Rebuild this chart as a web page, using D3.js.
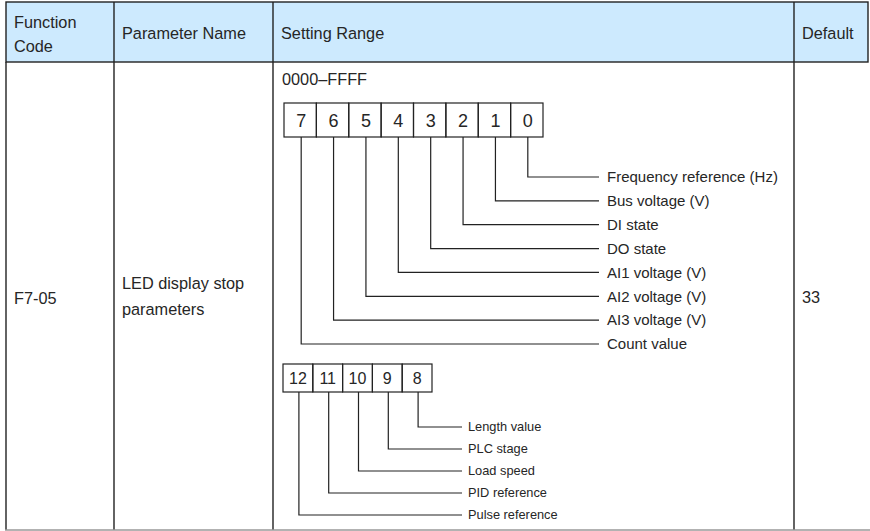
<!DOCTYPE html>
<html><head><meta charset="utf-8">
<script src="https://cdn.jsdelivr.net/npm/d3@7"></script>
<style>html,body{margin:0;padding:0;background:#fff;}svg{display:block;font-family:"Liberation Sans",Arial,sans-serif;}</style>
</head><body>
<svg id="c" width="870" height="531"></svg>
<script>
// ---- data ----
const headers = ["Function\nCode", "Parameter Name", "Setting Range", "Default"];
const functionCode = "F7-05";
const parameterName = ["LED display stop", "parameters"];
const settingRange = "0000–FFFF";
const defaultValue = "33";
const bitsRow1 = ["7","6","5","4","3","2","1","0"];
const labelsRow1 = ["Frequency reference (Hz)","Bus voltage (V)","DI state","DO state",
  "AI1 voltage (V)","AI2 voltage (V)","AI3 voltage (V)","Count value"]; // bit 0..7
const bitsRow2 = ["12","11","10","9","8"];
const labelsRow2 = ["Length value","PLC stage","Load speed","PID reference","Pulse reference"]; // bit 8..12

(function(){
// ---- layout ----
const svg = d3.select("#c");
const colEdges = [6, 114, 273, 794, 868];
const tableTop = 2, headBottom = 62, tableBottom = 530;
const ink = "#222", txt = "#262626";

// header
svg.append("rect").attr("x", colEdges[0]).attr("y", tableTop)
  .attr("width", colEdges[4]-colEdges[0]).attr("height", headBottom-tableTop)
  .attr("fill", "#cdeafe").attr("stroke", ink).attr("stroke-width", 1.4);
svg.selectAll("line.hcol").data(colEdges.slice(1, 4)).join("line").attr("class", "hcol")
  .attr("x1", d => d).attr("x2", d => d).attr("y1", tableTop).attr("y2", headBottom)
  .attr("stroke", ink).attr("stroke-width", 1.4);
headers.forEach((h, i) => {
  const lines = h.split("\n");
  const t = svg.append("text").attr("x", colEdges[i] + 8).attr("fill", txt).attr("font-size", 16.3);
  lines.forEach((l, j) => {
    t.append("tspan").attr("x", colEdges[i] + 8)
      .attr("y", lines.length === 1 ? 39 : 28 + j * 24).text(l);
  });
});
// column borders (body)
svg.selectAll("line.col").data(colEdges.slice(0, 4)).join("line").attr("class", "col")
  .attr("x1", d => d).attr("x2", d => d).attr("y1", headBottom).attr("y2", tableBottom)
  .attr("stroke", ink).attr("stroke-width", 1.4);
svg.append("line").attr("x1", colEdges[0]-1).attr("x2", 870).attr("y1", tableBottom).attr("y2", tableBottom)
  .attr("stroke", "#999").attr("stroke-width", 1.4);

// body texts
svg.append("text").attr("x", colEdges[0] + 8).attr("y", 304).attr("font-size", 16.3).attr("fill", txt).text(functionCode);
parameterName.forEach((l, j) => svg.append("text").attr("x", colEdges[1] + 8).attr("y", 289 + j * 26)
  .attr("font-size", 16.3).attr("fill", txt).text(l));
svg.append("text").attr("x", colEdges[3] + 8).attr("y", 303).attr("font-size", 16.3).attr("fill", txt).text(defaultValue);
svg.append("text").attr("x", 282).attr("y", 85).attr("font-size", 16.3).attr("fill", txt).text(settingRange);

// ---- bit diagram row 1 ----
const x1 = d3.scaleBand().domain(bitsRow1).range([284, 543]);
const box1Top = 103, box1Bot = 137;
const y1 = d3.scalePoint().domain(d3.range(8)).range([177, 344]);
const g1 = svg.append("g");
g1.selectAll("rect").data(bitsRow1).join("rect")
  .attr("x", d => x1(d)).attr("y", box1Top).attr("width", x1.bandwidth()).attr("height", box1Bot - box1Top)
  .attr("fill", "none").attr("stroke", ink).attr("stroke-width", 1.2);
g1.selectAll("text.b").data(bitsRow1).join("text").attr("class", "b")
  .attr("x", d => x1(d) + x1.bandwidth()/2 + 1).attr("y", 127).attr("text-anchor", "middle")
  .attr("font-size", 18).attr("fill", txt).text(d => d);
g1.selectAll("path").data(bitsRow1).join("path")
  .attr("d", d => { const cx = x1(d) + x1.bandwidth()/2 + 1, yy = y1(+d);
    return `M${cx},${box1Bot}V${yy}H599`; })
  .attr("fill", "none").attr("stroke", ink).attr("stroke-width", 1.2);
g1.selectAll("text.l").data(labelsRow1).join("text").attr("class", "l")
  .attr("x", 607).attr("y", (d, i) => y1(i)).attr("dy", "0.35em")
  .attr("font-size", 15).attr("fill", txt).text(d => d);

// ---- bit diagram row 2 ----
const x2 = d3.scaleBand().domain(bitsRow2).range([283, 432]);
const box2Top = 364, box2Bot = 392;
const y2 = d3.scalePoint().domain(d3.range(8, 13)).range([427, 515]);
const g2 = svg.append("g");
g2.selectAll("rect").data(bitsRow2).join("rect")
  .attr("x", d => x2(d)).attr("y", box2Top).attr("width", x2.bandwidth()).attr("height", box2Bot - box2Top)
  .attr("fill", "none").attr("stroke", ink).attr("stroke-width", 1.2);
g2.selectAll("text.b").data(bitsRow2).join("text").attr("class", "b")
  .attr("x", d => x2(d) + x2.bandwidth()/2).attr("y", 384).attr("text-anchor", "middle")
  .attr("font-size", 16).attr("fill", txt).text(d => d);
g2.selectAll("path").data(bitsRow2).join("path")
  .attr("d", d => { const cx = x2(d) + x2.bandwidth()/2 + 1, yy = y2(+d);
    return `M${cx},${box2Bot}V${yy}H462`; })
  .attr("fill", "none").attr("stroke", ink).attr("stroke-width", 1.2);
g2.selectAll("text.l").data(labelsRow2).join("text").attr("class", "l")
  .attr("x", 468).attr("y", (d, i) => y2(8 + i)).attr("dy", "0.35em")
  .attr("font-size", 12.8).attr("fill", txt).text(d => d);
})();
</script>
</body></html>
